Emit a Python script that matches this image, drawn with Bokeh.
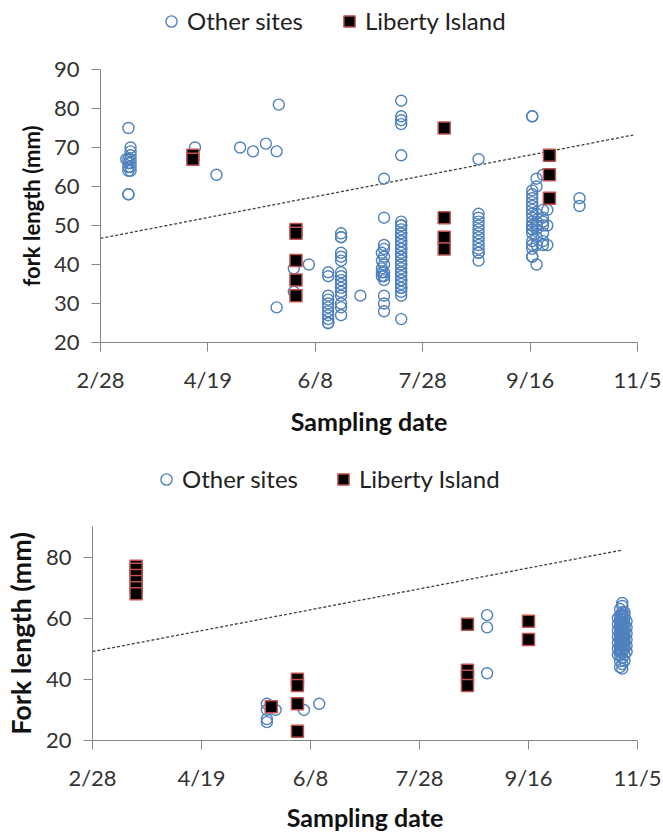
from bokeh.plotting import figure
from bokeh.models import FixedTicker, Legend, LegendItem, Range1d
from bokeh.embed import file_html
from bokeh.resources import INLINE

# x axis is day of year, ticks every 50 days
tick_days = [59, 109, 159, 209, 259, 309]
tick_labels = ["2/28", "4/19", "6/8", "7/28", "9/16", "11/5"]

# --- upper panel ---
top_other_days = [71, 72, 73, 103, 113, 124, 130, 136, 141, 142, 149, 156,
                  165, 171, 180, 190, 191, 199, 235, 260, 262, 265, 267, 282]
top_other_lengths = [
    [67],
    [75, 67, 66, 65, 64, 58, 58],
    [70, 69, 68, 67, 66, 65, 64],
    [70],
    [63],
    [70],
    [69],
    [71],
    [69, 29],
    [81],
    [39, 33],
    [40],
    [38, 37, 32, 31, 30, 29, 28, 27, 26, 25, 25],
    [48, 47, 47, 43, 42, 41, 38, 37, 36, 35, 34, 33, 32, 30, 29, 27],
    [32],
    [43, 41, 39, 38, 37],
    [62, 52, 45, 44, 42, 40, 38, 37, 36, 32, 30, 28],
    [82, 78, 77, 76, 68, 51, 50, 50, 49, 48, 48, 47, 46, 46, 45, 44, 44, 43,
     42, 42, 41, 40, 40, 39, 38, 38, 37, 36, 36, 35, 34, 34, 33, 32, 26],
    [67, 53, 52, 51, 50, 49, 48, 47, 46, 45, 44, 43, 43, 41],
    [78, 78, 59, 58, 57, 56, 55, 54, 53, 52, 51, 50, 50, 49, 49, 48, 46, 45,
     44, 42, 42],
    [62, 60, 53, 51, 50, 49, 47, 45, 40],
    [63, 54, 52, 51, 50, 48, 46, 45],
    [54, 50, 45],
    [57, 55],
]
top_liberty_days = [102, 150, 219, 268]
top_liberty_lengths = [[68, 67], [49, 48, 41, 36, 32], [75, 52, 47, 44],
                       [68, 63, 57]]
top_trend_days = [59, 307]
top_trend_lengths = [46.7, 73.2]

# --- lower panel ---
bot_other_days = [139, 143, 156, 163, 240, 300, 301, 302, 303, 304]
bot_other_lengths = [
    [32, 30, 27, 26],
    [30],
    [30],
    [32],
    [61, 57, 42],
    [60, 58, 56, 54, 52, 50, 48],
    [63, 61, 60, 59, 58, 57, 56, 55, 54, 53, 52, 51, 50, 49, 48, 46, 44],
    [65, 64, 62, 61, 60.5, 59.5, 58.5, 57.5, 56.5, 55.5, 54.5, 53.5, 52.5,
     51.5, 50.5, 49.5, 48.5, 47, 45, 43.5],
    [62, 61, 60, 58, 57, 55, 54, 53, 52, 51, 50, 48, 46],
    [59, 57, 55, 53, 51, 49],
]
bot_liberty_days = [79, 141, 153, 231, 259]
bot_liberty_lengths = [[77, 76, 74, 72, 70, 68], [31], [40, 38, 32, 23],
                       [58, 43, 41, 38], [59, 53]]
bot_trend_days = [59, 302]
bot_trend_lengths = [49.1, 82.3]

FONT = "Lato"
WIDTH = 663
OTHER_STYLE = dict(marker="circle", size=11, fill_color=None,
                   line_color="#4f81bd", line_width=1.4)
LIB_STYLE = dict(marker="square", size=12, fill_color="black",
                 line_color="#c0504d", line_width=1.5)


def flatten(days, lengths):
    xs, ys = [], []
    for d, vals in zip(days, lengths):
        for v in vals:
            xs.append(d)
            ys.append(v)
    return xs, ys


# Legend strip above each chart; the series are drawn outside its (0..1)
# ranges so only the legend shows
def make_legend(other, liberty, height, loc, spacing):
    p = figure(width=WIDTH, height=height, output_backend="svg",
               toolbar_location=None, x_axis_type=None, y_axis_type=None,
               x_range=Range1d(0, 1), y_range=Range1d(0, 1), min_border=0)
    p.outline_line_color = None
    p.xgrid.visible = False
    p.ygrid.visible = False
    ox, oy = flatten(*other)
    lx, ly = flatten(*liberty)
    r_other = p.scatter(ox, oy, **OTHER_STYLE)
    r_lib = p.scatter(lx, ly, **LIB_STYLE)
    legend = Legend(items=[LegendItem(label="Other sites", renderers=[r_other]),
                           LegendItem(label="Liberty Island", renderers=[r_lib])],
                    orientation="horizontal", location=loc,
                    label_text_font=FONT, label_text_font_size="24px",
                    label_text_color="#222222", glyph_width=28,
                    glyph_height=28, label_standoff=2, spacing=spacing,
                    padding=0, margin=0, border_line_color=None,
                    background_fill_alpha=0)
    p.add_layout(legend)
    return p


def make_panel(other, liberty, trend, yticks, ylabel, ylabel_size, height,
               border_top, frame_h, border_left, label_standoff, title_standoff):
    p = figure(width=WIDTH, height=height, output_backend="svg",
               toolbar_location=None, x_range=Range1d(59, 309),
               y_range=Range1d(20, 90),
               min_border_top=border_top,
               min_border_bottom=height - border_top - frame_h,
               min_border_left=border_left, min_border_right=26)
    p.outline_line_color = None
    p.xgrid.visible = False
    p.ygrid.visible = False

    p.line(trend[0], trend[1], line_color="#404040", line_width=1.3,
           line_dash="3 2")

    ox, oy = flatten(*other)
    lx, ly = flatten(*liberty)
    p.scatter(ox, oy, **OTHER_STYLE)
    p.scatter(lx, ly, **LIB_STYLE)

    for ax in (p.xaxis[0], p.yaxis[0]):
        ax.axis_line_color = "#868686"
        ax.major_tick_line_color = "#868686"
        ax.major_tick_out = 9
        ax.major_tick_in = 0
        ax.minor_tick_line_color = None
        ax.major_label_text_font = FONT
        ax.major_label_text_font_size = "22px"
        ax.major_label_text_color = "#333333"
        ax.axis_label_text_font = FONT
        ax.axis_label_text_font_style = "bold"
        ax.axis_label_text_color = "#111111"

    p.xaxis.ticker = FixedTicker(ticks=tick_days)
    p.xaxis.major_label_overrides = dict(zip(tick_days, tick_labels))
    p.xaxis.major_label_standoff = label_standoff
    p.xaxis.axis_label = "Sampling date"
    p.xaxis.axis_label_text_font_size = "25px"
    p.xaxis.axis_label_standoff = title_standoff

    p.yaxis.ticker = FixedTicker(ticks=yticks)
    p.yaxis.major_label_standoff = 12
    p.yaxis.axis_label = ylabel
    p.yaxis.axis_label_text_font_size = ylabel_size
    p.yaxis.axis_label_standoff = 6
    return p


top_series = ((top_other_days, top_other_lengths),
              (top_liberty_days, top_liberty_lengths))
bot_series = ((bot_other_days, bot_other_lengths),
              (bot_liberty_days, bot_liberty_lengths))

top_legend = make_legend(*top_series, 40, (157, 5), 32)
top = make_panel(*top_series, (top_trend_days, top_trend_lengths),
                 [20, 30, 40, 50, 60, 70, 80, 90], "fork length (mm)", "22px",
                 398, 29, 275, 100, 14, 10)
bot_legend = make_legend(*bot_series, 60, (152, 5), 31)
bottom = make_panel(*bot_series, (bot_trend_days, bot_trend_lengths),
                    [20, 40, 60, 80], "Fork length (mm)", "27px",
                    336, 28, 219, 90, 14, 8)

# separate roots stack vertically without their frames being aligned
open("out.html", "w").write(file_html([top_legend, top, bot_legend, bottom],
                                      INLINE))
